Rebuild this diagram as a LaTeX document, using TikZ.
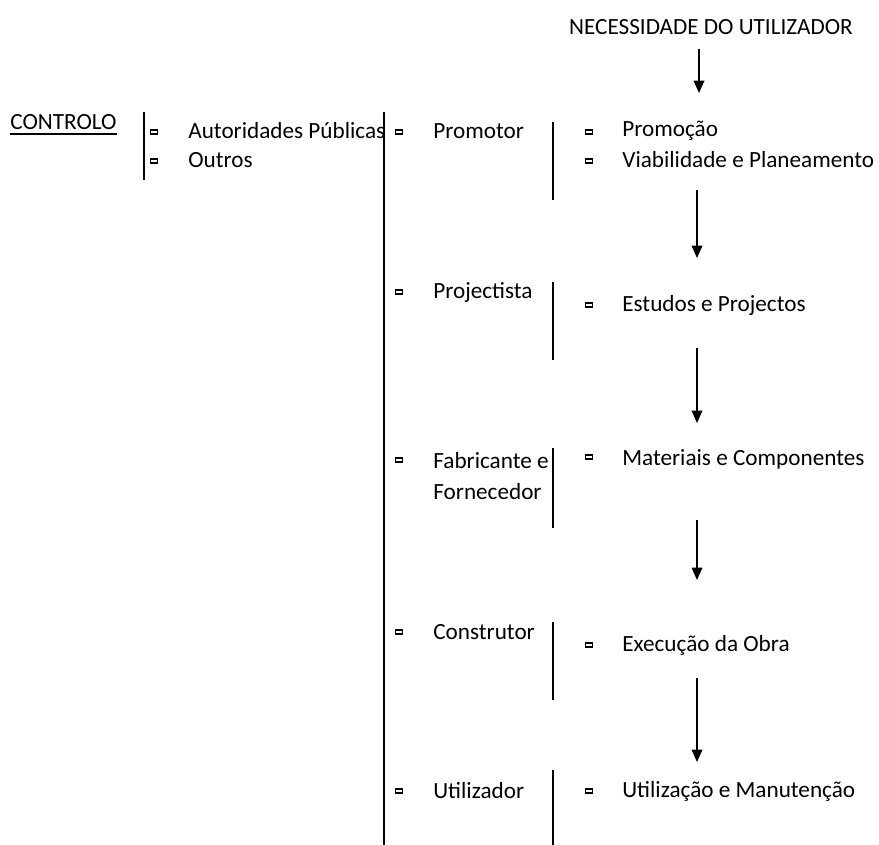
\documentclass[tikz,border=0pt]{standalone}
\usepackage{fontspec}
\setmainfont{Carlito}
\usetikzlibrary{arrows.meta}
\tikzset{
  lbl/.style={anchor=west,inner sep=0pt},
  blt/.style={draw,line width=0.9pt,inner sep=0pt,minimum width=3.8pt,minimum height=2.4pt},
  bar/.style={line width=0.9pt},
  flow/.style={line width=0.9pt,-{Triangle[length=7pt,width=6pt]}}
}
\begin{document}
\begin{tikzpicture}[x=0.02cm,y=-0.02cm,font=\fontsize{13.2}{15}\selectfont]
				\useasboundingbox (0,0) rectangle (879,845);
				% top
				\node (need) at (711,27) {NECESSIDADE DO UTILIZADOR};
				\coordinate (a1) at (699,49);
				\coordinate (b1) at (699,93);
				\draw[flow] (a1) -- (b1);
				% controlo
				\node[lbl] (ctrl) at (10,122) {CONTROLO};
				\draw[line width=0.8pt] ([yshift=-2.5pt]ctrl.base west) -- ([yshift=-2.5pt]ctrl.base east);
				\coordinate (c1) at (144,112);
				\coordinate (c2) at (144,180);
				\draw[bar] (c1) -- (c2);
				\node[blt] (ba) at (154,132) {};
				\node[blt] (bo) at (154,161) {};
				\node[lbl] (aut) at (188,131) {Autoridades Públicas};
				\node[lbl] (out) at (188,160) {Outros};
				\coordinate (m1) at (384,112);
				\coordinate (m2) at (384,845);
				\draw[bar] (m1) -- (m2);
				% promotor
				\node[blt] (bp) at (399,132) {};
				\node[lbl] (prom) at (433,131) {Promotor};
				\draw[bar] (553,122) coordinate (p1) -- (553,200) coordinate (p2);
				\node[blt] (bq) at (589,132) {};
				\node[lbl] (promo) at (622,131) {Promoção};
				\node[blt] (bv) at (589,161) {};
				\node[lbl] (viab) at (622,160) {Viabilidade e Planeamento};
				\coordinate (a2) at (697,190);
				\coordinate (b2) at (697,258);
				\draw[flow] (a2) -- (b2);
				% projectista
				\node[blt] (bj) at (399,292) {};
				\node[lbl] (proj) at (433,292) {Projectista};
				\draw[bar] (553,282) coordinate (j1) -- (553,360) coordinate (j2);
				\node[blt] (be) at (589,305) {};
				\node[lbl] (est) at (622,305) {Estudos e Projectos};
				\coordinate (a3) at (697,348);
				\coordinate (b3) at (697,423);
				\draw[flow] (a3) -- (b3);
				% fabricante
				\node[blt] (bf) at (399,460) {};
				\node[lbl,align=left,anchor=north west] (fab) at (433,452) {Fabricante e\\[2.5pt]Fornecedor};
				\draw[bar] (553,448) coordinate (f1) -- (553,528) coordinate (f2);
				\node[blt] (bm) at (589,457) {};
				\node[lbl] (mat) at (622,459) {Materiais e Componentes};
				\coordinate (a4) at (697,520);
				\coordinate (b4) at (697,580);
				\draw[flow] (a4) -- (b4);
				% construtor
				\node[blt] (bc) at (399,632) {};
				\node[lbl] (cons) at (433,632) {Construtor};
				\draw[bar] (553,622) coordinate (k1) -- (553,700) coordinate (k2);
				\node[blt] (bx) at (589,645) {};
				\node[lbl] (exe) at (622,645) {Execução da Obra};
				\coordinate (a5) at (697,678);
				\coordinate (b5) at (697,762);
				\draw[flow] (a5) -- (b5);
				% utilizador
				\node[blt] (bu) at (399,791) {};
				\node[lbl] (util) at (433,791) {Utilizador};
				\draw[bar] (553,770) coordinate (u1) -- (553,845) coordinate (u2);
				\node[blt] (bz) at (589,791) {};
				\node[lbl] (man) at (622,791) {Utilização e Manutenção};
		\end{tikzpicture}
\end{document}
